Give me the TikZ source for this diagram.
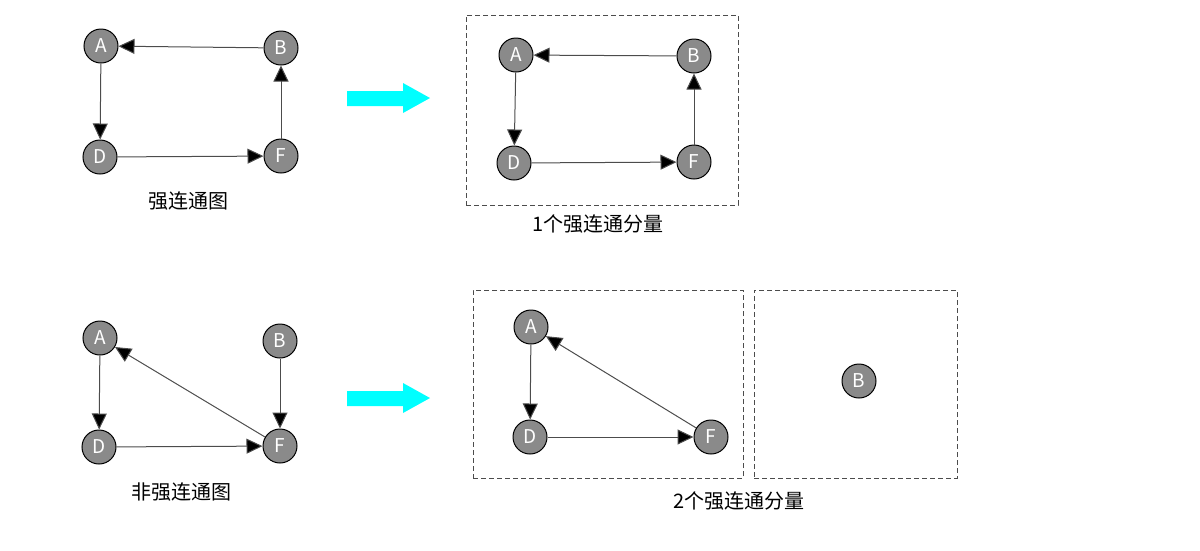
\documentclass[tikz,border=0pt]{standalone}
\usepackage{fontspec}
\newfontfamily\cjk{Noto Sans CJK SC}
\usetikzlibrary{arrows.meta}
\definecolor{aqua}{RGB}{0,255,255}
\definecolor{nodegray}{RGB}{138,138,138}
\begin{document}
\begin{tikzpicture}[x=1pt,y=-1pt,
  vtx/.style={circle,draw=black,line width=1pt,fill=nodegray,minimum size=34pt,inner sep=0pt,text=white,font=\cjk\fontsize{19}{19}\selectfont},
  edge/.style={draw=black!70,line width=1pt,-{Triangle[length=16pt,width=15pt,fill=black]}},
  grp/.style={draw=black!70,line width=0.8pt,dash pattern=on 5pt off 3pt},
  lbl/.style={font=\cjk\fontsize{20}{20}\selectfont,text=black},
  bigarrow/.style={fill=aqua,draw=none}]
\useasboundingbox (0,0) rectangle (1200,550);
% ---- top left
\node[vtx] (tA) at (101,46) {A};
\node[vtx] (tB) at (281,48) {B};
\node[vtx] (tD) at (100,157) {D};
\node[vtx] (tF) at (281,156) {F};
\draw[edge] (tB) -- (tA);
\draw[edge] (tA) -- (tD);
\draw[edge] (tD) -- (tF);
\draw[edge] (tF) -- (tB);
\node[lbl] (tl) at (188,201) {强连通图};
% ---- top arrow
\fill[bigarrow] (347,91) -- (403,91) -- (403,83) -- (430,98) -- (403,113) -- (403,106) -- (347,106) -- cycle;
% ---- top right
\node[grp,minimum width=272pt,minimum height=190pt,inner sep=0pt] (tbox) at (602,110) {};
\node[vtx] (rA) at (516,55) {A};
\node[vtx] (rB) at (694,56) {B};
\node[vtx] (rD) at (514,163) {D};
\node[vtx] (rF) at (694,162) {F};
\draw[edge] (rB) -- (rA);
\draw[edge] (rA) -- (rD);
\draw[edge] (rD) -- (rF);
\draw[edge] (rF) -- (rB);
\node[lbl] (rl) at (598,224) {1个强连通分量};
% ---- bottom left
\node[vtx] (bA) at (100,338) {A};
\node[vtx] (bB) at (280,341) {B};
\node[vtx] (bD) at (99,447) {D};
\node[vtx] (bF) at (280,446) {F};
\draw[edge] (bA) -- (bD);
\draw[edge] (bD) -- (bF);
\draw[edge] (bB) -- (bF);
\draw[edge] (bF) -- (bA);
\node[lbl] (bl) at (181,492) {非强连通图};
% ---- bottom arrow
\fill[bigarrow] (347,391) -- (403,391) -- (403,383) -- (430,398) -- (403,413) -- (403,406) -- (347,406) -- cycle;
% ---- bottom right
\node[grp,minimum width=270pt,minimum height=188pt,inner sep=0pt] (box1) at (608,384) {};
\node[grp,minimum width=203pt,minimum height=188pt,inner sep=0pt] (box2) at (855.5,384) {};
\node[vtx] (sA) at (531,327) {A};
\node[vtx] (sD) at (530,437) {D};
\node[vtx] (sF) at (711,437) {F};
\node[vtx] (sB) at (859,381) {B};
\draw[edge] (sA) -- (sD);
\draw[edge] (sD) -- (sF);
\draw[edge] (sF) -- (sA);
\node[lbl] (sl) at (739,501) {2个强连通分量};
\end{tikzpicture}
\end{document}
